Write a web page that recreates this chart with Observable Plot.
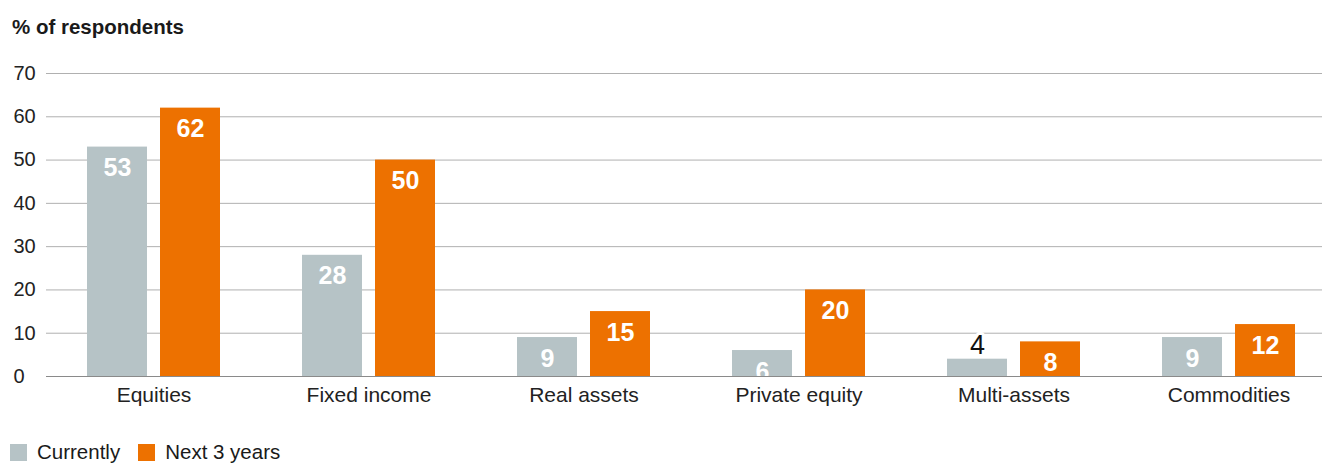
<!DOCTYPE html>
<html>
<head>
<meta charset="utf-8">
<script src="https://cdn.jsdelivr.net/npm/d3@7"></script>
<script src="https://cdn.jsdelivr.net/npm/@observablehq/plot@0.6"></script>
<style>
  html, body { margin: 0; padding: 0; background: #fff; }
  body { width: 1322px; height: 464px; position: relative; overflow: hidden;
         font-family: "Liberation Sans", Arial, sans-serif; color: #1a1a1a; }
  #title { position: absolute; left: 12px; top: 17px; font-size: 20.5px; line-height: 20px; font-weight: bold; }
  #chart { position: absolute; left: 0; top: 36px; }
  #legend { position: absolute; left: 10px; top: 442px; display: flex; align-items: center;
            font-size: 20.5px; line-height: 20px; }
  .item { display: flex; align-items: center; margin-right: 18px; }
  .sw { width: 17px; height: 17px; margin-right: 10px; }
</style>
</head>
<body>
<div id="title">% of respondents</div>
<div id="chart"></div>
<div id="legend"></div>
<script>
const categories = ["Equities", "Fixed income", "Real assets", "Private equity", "Multi-assets", "Commodities"];
const series = ["Currently", "Next 3 years"];
const currently = [53, 28, 9, 6, 4, 9];
const next3Years = [62, 50, 15, 20, 8, 12];
const yTicks = [0, 10, 20, 30, 40, 50, 60, 70];
const colors = ["#b6c3c6", "#ed7100"];

const data = categories.flatMap((c, i) => [
  {category: c, series: series[0], value: currently[i]},
  {category: c, series: series[1], value: next3Years[i]}
]);

const chart = Plot.plot({
  width: 1322,
  height: 380,
  marginTop: 37,
  marginBottom: 40,
  marginLeft: 45,
  marginRight: -14,
  style: {fontFamily: "'Liberation Sans', Arial, sans-serif", fontSize: "20px", color: "#222", background: "transparent"},
  fx: {domain: categories, padding: 0, label: null},
  x: {domain: series, axis: null, paddingInner: 0.18, paddingOuter: 0.55},
  y: {domain: [0, 70]},
  color: {domain: series, range: colors},
  marks: [
    Plot.gridY(yTicks, {stroke: "#b0b0b0", strokeOpacity: 1}),
    Plot.axisY(yTicks, {tickSize: 0, tickPadding: 33, textAnchor: "start", fontSize: 20, label: null, fill: "#222"}),
    Plot.barY(data, {fx: "category", x: "series", y: "value", fill: "series"}),
    Plot.ruleY([0], {stroke: "#8a8a8a"}),
    Plot.text(data.filter(d => d.value >= 5), {
      fx: "category", x: "series", y: "value", text: d => String(d.value),
      dy: 21, fill: "white", fontWeight: "bold", fontSize: 25, clip: true
    }),
    Plot.text(data.filter(d => d.value < 5), {
      fx: "category", x: "series", y: "value", text: d => String(d.value),
      dy: -14, fill: "#111", fontSize: 27, stroke: "white", strokeWidth: 6
    }),
    Plot.axisFx({anchor: "bottom", tickSize: 0, tickPadding: 11, fontSize: 21, label: null, fill: "#222"})
  ]
});
document.getElementById("chart").appendChild(chart);

const legend = document.getElementById("legend");
series.forEach((s, i) => {
  const item = document.createElement("div");
  item.className = "item";
  const sw = document.createElement("div");
  sw.className = "sw";
  sw.style.background = colors[i];
  const t = document.createElement("span");
  t.textContent = s;
  item.appendChild(sw);
  item.appendChild(t);
  legend.appendChild(item);
});
</script>
</body>
</html>
